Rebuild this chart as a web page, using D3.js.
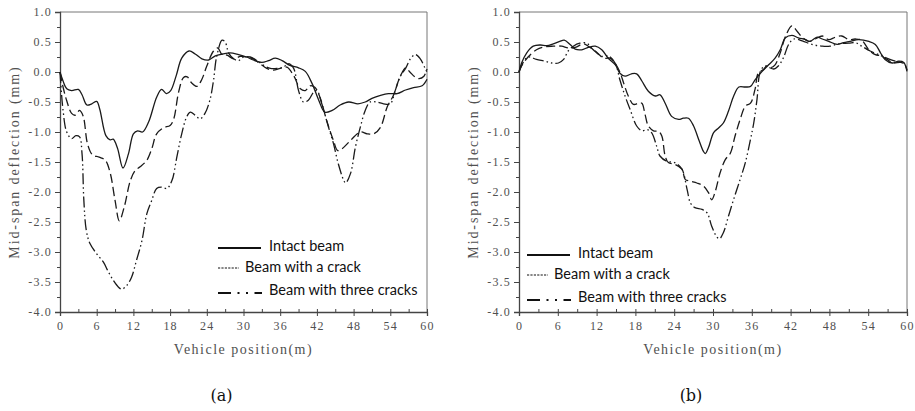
<!DOCTYPE html>
<html>
<head>
<meta charset="utf-8">
<script src="https://cdn.jsdelivr.net/npm/d3@7"></script>
<style>
  body { margin: 0; background: #fff; }
  svg { display: block; }
</style>
</head>
<body>
<svg id="fig" width="915" height="411"></svg>
<script>
// ---- data -------------------------------------------------------------
const xTicks = [0, 6, 12, 18, 24, 30, 36, 42, 48, 54, 60];
const yTicks = [1.0, 0.5, 0.0, -0.5, -1.0, -1.5, -2.0, -2.5, -3.0, -3.5, -4.0];
const seriesNames = ["Intact beam", "Beam with a crack", "Beam with three cracks"];
const captions = ["(a)", "(b)"];
const xTitle = "Vehicle position(m)";
const yTitle = "Mid-span deflection (mm)";

// panel (a): [vehicle position (m), mid-span deflection (mm)]
const intactA = [[0,0],[0.5,-0.15],[1.1,-0.28],[1.9,-0.31],[3.0,-0.29],[3.6,-0.38],[4.4,-0.55],[5.2,-0.53],[6.0,-0.49],[6.5,-0.62],[7.5,-1.06],[8.2,-1.13],[8.7,-1.12],[9.4,-1.27],[10.3,-1.6],[11.2,-1.36],[12.0,-1.03],[12.7,-0.98],[13.5,-1.0],[14.5,-0.83],[15.8,-0.42],[16.6,-0.29],[17.4,-0.36],[18.1,-0.31],[19.0,-0.06],[19.9,0.23],[21.1,0.35],[22.1,0.3],[23.2,0.22],[24.3,0.2],[25.4,0.27],[26.6,0.3],[27.8,0.32],[29.2,0.29],[30.5,0.25],[31.6,0.2],[33.0,0.16],[34.1,0.19],[35.2,0.23],[36.3,0.19],[37.6,0.11],[39.0,0.07],[40.1,0.01],[41.2,-0.19],[42.3,-0.47],[43.3,-0.67],[44.5,-0.64],[45.8,-0.55],[47.2,-0.5],[48.7,-0.53],[49.9,-0.5],[51.0,-0.44],[52.4,-0.39],[53.7,-0.36],[55.1,-0.36],[56.5,-0.3],[57.8,-0.26],[59.2,-0.23],[60,-0.12]];
const crackA = [[0,0],[0.5,-0.25],[1.1,-0.48],[1.9,-0.69],[2.5,-0.72],[3.2,-0.64],[3.8,-0.74],[4.5,-1.2],[5.3,-1.38],[6.4,-1.42],[7.4,-1.47],[8.2,-1.68],[9.0,-2.14],[9.7,-2.48],[10.5,-2.25],[11.5,-1.81],[12.3,-1.64],[13.1,-1.58],[14.2,-1.47],[15.0,-1.28],[15.8,-1.03],[16.9,-0.93],[18.0,-0.89],[18.6,-0.78],[19.4,-0.33],[20.2,-0.09],[20.8,-0.08],[21.5,-0.18],[22.4,-0.24],[23.2,-0.12],[24.0,0.1],[25.1,0.35],[25.8,0.4],[26.5,0.29],[27.3,0.28],[28.4,0.22],[29.5,0.26],[30.5,0.25],[31.6,0.22],[32.7,0.14],[33.8,0.06],[34.9,0.03],[36.0,0.06],[37.1,0.08],[38.2,-0.06],[39.3,-0.28],[40.1,-0.31],[40.9,-0.23],[41.7,-0.26],[42.5,-0.42],[43.6,-0.81],[44.7,-1.14],[45.4,-1.31],[46.1,-1.28],[47.5,-1.14],[49.1,-1.0],[50.2,-1.03],[51.3,-1.03],[52.4,-0.92],[53.5,-0.58],[54.5,-0.39],[55.6,-0.08],[56.5,0.07],[57.2,0.0],[58.0,-0.08],[58.7,-0.11],[59.5,-0.07],[60,0.05]];
const threeA = [[0,0],[0.5,-0.64],[1.1,-1.0],[1.9,-1.11],[2.6,-1.06],[3.2,-1.08],[3.6,-1.36],[3.9,-2.14],[4.3,-2.64],[4.9,-2.86],[6.0,-3.03],[7.1,-3.17],[7.9,-3.33],[8.7,-3.47],[9.5,-3.58],[10.1,-3.62],[10.9,-3.56],[11.7,-3.42],[12.5,-3.14],[13.4,-2.81],[14.2,-2.36],[15.0,-2.14],[15.8,-1.94],[16.6,-1.92],[17.5,-1.94],[18.3,-1.81],[19.1,-1.42],[19.9,-1.03],[20.7,-0.75],[21.3,-0.67],[22.1,-0.72],[22.9,-0.78],[23.7,-0.69],[24.5,-0.47],[25.1,-0.14],[25.6,0.25],[26.5,0.53],[27.0,0.5],[27.6,0.31],[28.4,0.22],[29.2,0.19],[30.0,0.25],[31.1,0.25],[32.2,0.19],[33.3,0.11],[34.4,0.06],[35.5,0.06],[36.5,0.08],[37.4,0.14],[38.2,0.06],[39.0,-0.31],[39.8,-0.5],[40.6,-0.47],[41.5,-0.33],[42.0,-0.31],[42.8,-0.53],[43.9,-0.92],[44.7,-1.19],[45.5,-1.53],[46.4,-1.81],[46.7,-1.85],[47.5,-1.69],[48.3,-1.25],[49.1,-0.92],[49.9,-0.64],[50.7,-0.5],[51.8,-0.5],[52.9,-0.53],[54.0,-0.53],[54.8,-0.31],[55.6,-0.08],[56.5,0.06],[57.3,0.22],[58.1,0.29],[58.9,0.22],[59.7,0.06],[60,0.0]];

// panel (b)
const intactB = [[0,0],[0.4,0.15],[1.2,0.32],[2.2,0.43],[3.3,0.45],[4.3,0.44],[5.3,0.47],[6.3,0.51],[7.0,0.53],[7.9,0.46],[8.7,0.38],[9.7,0.37],[10.7,0.41],[11.8,0.43],[12.8,0.37],[13.8,0.23],[14.9,0.12],[15.6,-0.02],[16.4,-0.07],[17.4,-0.03],[18.2,-0.03],[19.0,-0.15],[20.0,-0.32],[21.1,-0.4],[21.8,-0.38],[22.6,-0.52],[23.6,-0.74],[24.7,-0.79],[25.4,-0.77],[26.2,-0.77],[27.0,-0.9],[27.8,-1.13],[28.5,-1.32],[28.8,-1.36],[29.3,-1.26],[30.1,-1.01],[30.9,-0.93],[31.6,-0.85],[32.4,-0.65],[33.2,-0.4],[34.0,-0.25],[35.0,-0.25],[35.8,-0.24],[36.5,-0.13],[37.6,0.01],[38.6,0.12],[39.6,0.23],[40.4,0.37],[41.2,0.57],[42.2,0.61],[43.2,0.57],[44.3,0.54],[45.0,0.51],[46.1,0.58],[46.9,0.55],[47.9,0.51],[49.2,0.46],[50.2,0.49],[51.2,0.51],[52.5,0.54],[54.1,0.51],[55.1,0.46],[55.9,0.32],[56.6,0.21],[57.7,0.15],[58.7,0.18],[59.5,0.16],[60,0.01]];
const crackB = [[0,0],[0.4,0.1],[1.4,0.25],[2.7,0.37],[4.0,0.42],[5.3,0.43],[6.6,0.43],[7.6,0.4],[8.7,0.41],[10.0,0.47],[10.7,0.43],[11.8,0.35],[13.1,0.23],[14.1,0.23],[14.9,0.14],[15.6,0.0],[16.2,-0.19],[16.9,-0.4],[17.7,-0.54],[18.5,-0.52],[19.0,-0.52],[19.5,-0.71],[20.0,-0.9],[20.8,-0.98],[21.6,-0.99],[22.1,-1.07],[22.6,-1.4],[23.1,-1.51],[24.1,-1.54],[25.2,-1.62],[25.7,-1.79],[26.5,-1.82],[27.5,-1.85],[28.5,-1.9],[29.3,-2.01],[29.8,-2.13],[30.3,-2.01],[31.1,-1.68],[31.9,-1.46],[32.7,-1.35],[33.4,-1.07],[34.2,-0.79],[35.0,-0.57],[35.8,-0.52],[36.5,-0.29],[37.0,-0.02],[37.8,0.04],[38.3,0.1],[38.9,0.07],[39.6,0.12],[40.4,0.32],[41.2,0.59],[42.2,0.77],[43.0,0.68],[43.8,0.58],[44.8,0.51],[45.8,0.55],[46.9,0.6],[47.9,0.54],[48.9,0.58],[49.9,0.6],[51.0,0.54],[52.0,0.55],[53.0,0.53],[54.1,0.37],[55.1,0.29],[55.9,0.27],[56.9,0.21],[57.9,0.15],[59.0,0.16],[60,0.12]];
const threeB = [[0,0],[0.7,0.17],[1.4,0.25],[2.7,0.21],[4.0,0.18],[5.1,0.15],[6.1,0.15],[6.9,0.21],[7.6,0.35],[8.4,0.43],[9.4,0.48],[10.5,0.48],[11.2,0.4],[12.0,0.32],[12.8,0.26],[13.8,0.27],[14.9,0.14],[15.6,-0.13],[16.4,-0.4],[17.2,-0.63],[18.2,-0.9],[19.0,-0.98],[19.8,-0.96],[20.5,-1.01],[21.3,-1.24],[21.8,-1.4],[22.9,-1.49],[24.1,-1.51],[25.2,-1.62],[26.0,-1.96],[26.5,-2.18],[27.2,-2.26],[28.3,-2.29],[29.1,-2.35],[29.8,-2.57],[30.6,-2.75],[31.0,-2.78],[31.6,-2.68],[32.4,-2.4],[33.2,-2.12],[34.2,-1.79],[35.0,-1.51],[35.8,-1.12],[36.3,-0.85],[36.8,-0.46],[37.3,0.0],[38.0,0.1],[38.6,0.08],[39.4,0.05],[40.1,0.1],[40.9,0.24],[41.7,0.46],[42.5,0.55],[43.8,0.52],[45.3,0.46],[46.9,0.43],[48.1,0.43],[49.4,0.47],[51.0,0.48],[52.0,0.49],[53.0,0.43],[54.3,0.35],[55.6,0.29],[56.9,0.23],[58.2,0.18],[59.5,0.15],[60,0.03]];

// ---- styling ------------------------------------------------------------
const lineDash = ["none", "9,4", "11,3,1.5,3,1.5,3"];
const axisColor = "#444";
const textColor = "#505050";
const axisFont = "'Liberation Serif', 'DejaVu Serif', serif";

const panels = [
  { box: { left: 60, right: 427, top: 12, bottom: 312 },
    series: [intactA, crackA, threeA],
    legend: { x: 218, rows: [246, 267, 290] },
    caption: captions[0] },
  { box: { left: 519, right: 907, top: 12, bottom: 312 },
    series: [intactB, crackB, threeB],
    legend: { x: 527, rows: [253, 274, 297] },
    caption: captions[1] }
];

const svg = d3.select("#fig");

panels.forEach(p => {
  const b = p.box;
  const x = d3.scaleLinear().domain([0, 60]).range([b.left, b.right]);
  const y = d3.scaleLinear().domain([-4, 1]).range([b.bottom, b.top]);
  const g = svg.append("g");

  // frame (top and right edges)
  g.append("path")
    .attr("d", `M${b.left},${b.top}H${b.right}V${b.bottom}`)
    .attr("fill", "none").attr("stroke", "#777").attr("stroke-width", 1);

  // x axis: majors outward, every 3 m a small inward tick
  g.append("g").attr("transform", `translate(0,${b.bottom})`)
    .call(d3.axisBottom(x).tickValues(xTicks).tickSize(4).tickPadding(5)
      .tickFormat(d3.format("d")));
  g.append("g").attr("transform", `translate(0,${b.bottom})`)
    .call(d3.axisTop(x).tickValues(d3.range(0, 61, 3)).tickSize(3).tickFormat(""))
    .call(s => s.select(".domain").remove());

  // y axis: majors every 0.5 with labels, minors every 0.25
  const yAxis = g.append("g").attr("transform", `translate(${b.left},0)`)
    .call(d3.axisLeft(y).tickValues(yTicks).tickSize(5).tickPadding(3)
      .tickFormat(d3.format(".1f")));
  g.append("g").attr("transform", `translate(${b.left},0)`)
    .call(d3.axisLeft(y).tickValues(d3.range(-3.75, 1, 0.5)).tickSize(3).tickFormat(""))
    .call(s => s.select(".domain").remove());

  g.selectAll(".domain").attr("stroke", axisColor).attr("stroke-width", 1.3);
  g.selectAll(".tick line").attr("stroke", axisColor).attr("stroke-width", 1);
  g.selectAll(".tick text")
    .attr("fill", textColor).style("font-family", axisFont)
    .style("font-size", "12px").style("letter-spacing", "1.2px");
  yAxis.selectAll(".tick text").text(d => d3.format(".1f")(d).replace("\u2212", "-"));

  // axis titles
  g.append("text")
    .attr("x", (b.left + b.right) / 2).attr("y", b.bottom + 42)
    .attr("text-anchor", "middle").attr("fill", textColor)
    .style("font-family", axisFont).style("font-size", "14px")
    .style("letter-spacing", "1.5px")
    .text(xTitle);
  g.append("text")
    .attr("transform", `translate(${b.left - 41},${(b.top + b.bottom) / 2}) rotate(-90)`)
    .attr("text-anchor", "middle").attr("fill", textColor)
    .style("font-family", axisFont).style("font-size", "14px")
    .style("letter-spacing", "1.9px")
    .text(yTitle);

  // curves
  const line = d3.line().x(d => x(d[0])).y(d => y(d[1])).curve(d3.curveCatmullRom.alpha(0.5));
  p.series.forEach((s, i) => {
    g.append("path").datum(s)
      .attr("d", line)
      .attr("fill", "none").attr("stroke", "#1a1a1a")
      .attr("stroke-width", 1.3)
      .attr("stroke-dasharray", lineDash[i]);
  });

  // legend
  const L = p.legend;
  const lg = g.append("g");
  const legendText = (tx, ty, t) => lg.append("text")
    .attr("x", tx).attr("y", ty + 5)
    .attr("fill", "#111").style("font-family", "Lato, 'Open Sans', sans-serif")
    .style("font-size", "14.5px").text(t);

  lg.append("line").attr("x1", L.x).attr("x2", L.x + 43)
    .attr("y1", L.rows[0] + 2).attr("y2", L.rows[0] + 2)
    .attr("stroke", "#111").attr("stroke-width", 2);
  legendText(L.x + 51, L.rows[0], seriesNames[0]);

  lg.append("line").attr("x1", L.x).attr("x2", L.x + 21)
    .attr("y1", L.rows[1] + 1).attr("y2", L.rows[1] + 1)
    .attr("stroke", "#111").attr("stroke-width", 1).attr("stroke-dasharray", "2.2,1.2");
  legendText(L.x + 27, L.rows[1], seriesNames[1]);

  lg.append("line").attr("x1", L.x).attr("x2", L.x + 44)
    .attr("y1", L.rows[2] + 3).attr("y2", L.rows[2] + 3)
    .attr("stroke", "#111").attr("stroke-width", 2.2)
    .attr("stroke-dasharray", "13,6.5,2,6.5,2,6.5,8");
  legendText(L.x + 51, L.rows[2], seriesNames[2]);

  // caption
  g.append("text")
    .attr("x", (b.left + b.right) / 2 - 22).attr("y", 401)
    .attr("text-anchor", "middle").attr("fill", "#111")
    .style("font-family", "'DejaVu Serif', 'Liberation Serif', serif")
    .style("font-size", "16px").text(p.caption);
});
</script>
</body>
</html>
